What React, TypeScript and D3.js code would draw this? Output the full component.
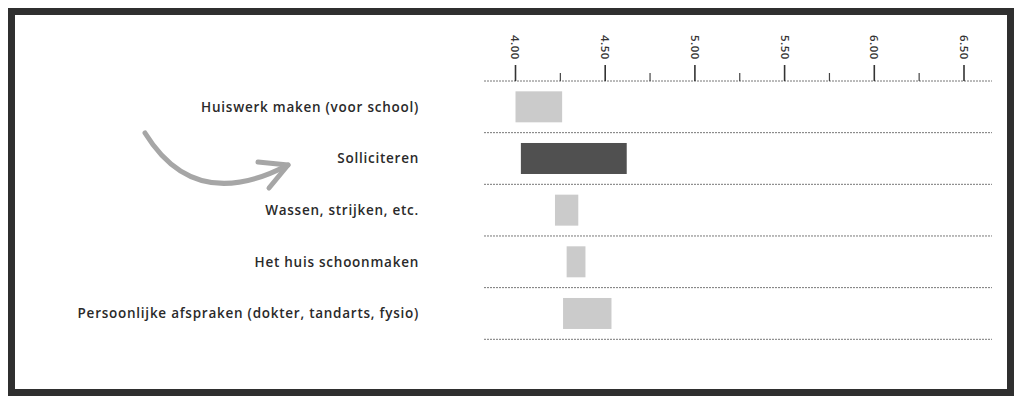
import * as d3 from "d3";

// activities and their score ranges (start / end)
const categories = [
  "Huiswerk maken (voor school)",
  "Solliciteren",
  "Wassen, strijken, etc.",
  "Het huis schoonmaken",
  "Persoonlijke afspraken (dokter, tandarts, fysio)",
];
const rangeStart = [4.0, 4.03, 4.22, 4.285, 4.265];
const rangeEnd = [4.26, 4.62, 4.35, 4.39, 4.535];
const highlighted = ["Solliciteren"];

const majorTicks = [4.0, 4.5, 5.0, 5.5, 6.0, 6.5];
const minorTicks = [4.25, 4.75, 5.25, 5.75, 6.25];

const W = 1024;
const H = 407;

export default function App() {
  const x = d3.scaleLinear().domain([4, 6.5]).range([515.5, 964]);
  const y = d3
    .scaleBand<string>()
    .domain(categories)
    .range([81, 339.3])
    .paddingInner(0.4)
    .paddingOuter(0.2);
  const step = y.step();
  const rowTop = (c: string) => (y(c) ?? 0) - y.paddingOuter() * step;
  const lineX0 = 484;
  const lineX1 = 992;

  // hand-drawn arrow pointing at the highlighted row
  const arrow = d3.path();
  arrow.moveTo(145, 133);
  arrow.quadraticCurveTo(195, 214, 288, 165);
  const head = d3.line()([
    [258, 162],
    [288, 165],
    [269, 188],
  ]);

  return (
    <svg
      width={W}
      height={H}
      style={{ position: "absolute", left: 0, top: 0, background: "#fff" }}
      fontFamily="'Open Sans', sans-serif"
    >
      <rect x={11.5} y={11.5} width={999} height={381} fill="#fff" stroke="#2f2f2f" strokeWidth={7} />

      {/* axis */}
      <line x1={lineX0} x2={lineX1} y1={81} y2={81} stroke="#777" strokeDasharray="2,1" />
      {majorTicks.map((t) => (
        <g key={t}>
          <line x1={x(t)} x2={x(t)} y1={65} y2={81} stroke="#333" strokeWidth={1.6} />
          <text
            transform={`translate(${x(t)},35) rotate(90)`}
            dy="0.35em"
            fontSize={11.5}
            letterSpacing={0.5}
            fill="#333"
            fontWeight={600}
          >
            {t.toFixed(2)}
          </text>
        </g>
      ))}
      {minorTicks.map((t) => (
        <line key={t} x1={x(t)} x2={x(t)} y1={73} y2={81} stroke="#444" strokeWidth={1.2} />
      ))}

      {/* rows */}
      {categories.map((c, i) => {
        const bottom = rowTop(c) + step;
        const yc = (y(c) ?? 0) + y.bandwidth() / 2;
        return (
          <g key={c}>
            <line x1={lineX0} x2={lineX1} y1={bottom} y2={bottom} stroke="#777" strokeDasharray="2,1" />
            <rect
              x={x(rangeStart[i])}
              y={y(c)}
              width={x(rangeEnd[i]) - x(rangeStart[i])}
              height={y.bandwidth()}
              fill={highlighted.includes(c) ? "#505050" : "#cbcbcb"}
            />
            <text
              x={419}
              y={yc}
              dy="0.35em"
              textAnchor="end"
              fontSize={13.5}
              letterSpacing={0.75}
              fontWeight={600}
              fill="#2a2a2a"
            >
              {c}
            </text>
          </g>
        );
      })}

      <path d={arrow.toString()} fill="none" stroke="#a6a6a6" strokeWidth={5} strokeLinecap="round" />
      <path d={head ?? ""} fill="none" stroke="#a6a6a6" strokeWidth={5} strokeLinecap="round" strokeLinejoin="round" />
    </svg>
  );
}
